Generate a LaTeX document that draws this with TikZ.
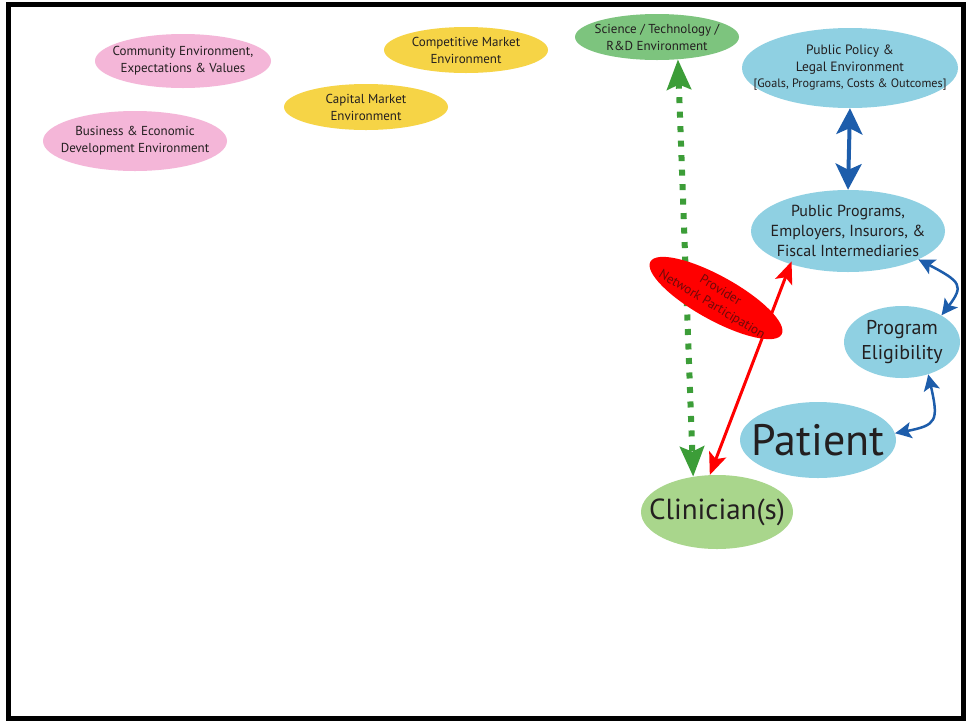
\documentclass[tikz,border=0pt]{standalone}
\usepackage{fontspec}
\setmainfont{PT Sans}
\usetikzlibrary{arrows.meta,shapes.geometric,bending}
\definecolor{pinkfill}{HTML}{F4B6D8}
\definecolor{yellowfill}{HTML}{F6D446}
\definecolor{scigreen}{HTML}{7DC47E}
\definecolor{bluefill}{HTML}{8FD0E2}
\definecolor{clingreen}{HTML}{A9D68C}
\definecolor{txt}{HTML}{231F20}
\definecolor{arrowblue}{HTML}{1D5DAB}
\definecolor{arrowgreen}{HTML}{3C9D38}
\definecolor{darkred}{HTML}{6E0A0A}
\tikzset{
  ell/.style={ellipse, inner sep=0pt},
  lbl/.style={inner sep=0pt, align=center, text=txt, font=\fontsize{13}{17}\selectfont},
  pinkell/.style={ell, fill=pinkfill},
  yellell/.style={ell, fill=yellowfill},
  blueell/.style={ell, fill=bluefill},
  greenarrow/.style={draw=arrowgreen, line width=6pt, dash pattern=on 6pt off 8.5pt,
     {Stealth[length=30pt,width=24pt,inset=5pt,fill=arrowgreen]}-{Stealth[length=30pt,width=24pt,inset=5pt,fill=arrowgreen]}},
  redarrow/.style={draw=red, line width=3pt,
     {Stealth[length=22pt,width=18pt,inset=5pt]}-{Stealth[length=22pt,width=18pt,inset=5pt]}},
  bluearrow/.style={draw=arrowblue, line width=4pt,
     {Stealth[length=26pt,width=26pt,inset=6pt]}-{Stealth[length=26pt,width=26pt,inset=6pt]}},
  bluecurve/.style={draw=arrowblue, line width=2.5pt,
     {Stealth[length=17pt,width=16pt,inset=4pt,bend]}-{Stealth[length=17pt,width=16pt,inset=4pt,bend]}}
}
\begin{document}
\begin{tikzpicture}[x=1pt,y=-1pt]
\useasboundingbox (0,0) rectangle (966,721);
\fill[white] (0,0) rectangle (966,721);
\draw[black, line width=5.5pt] (8.5,4.5) rectangle (963.5,718.5);

% environment ellipses
\node[pinkell, minimum width=176pt, minimum height=54pt,
  label={[lbl]center:Community Environment,\\Expectations \& Values}] (comm) at (183,61) {};
\node[pinkell, minimum width=184pt, minimum height=60pt,
  label={[lbl]center:Business \& Economic\\Development Environment}] (bus) at (135,141) {};
\node[yellell, minimum width=164pt, minimum height=46pt,
  label={[lbl]center:Competitive Market\\Environment}] (comp) at (466,50) {};
\node[yellell, minimum width=164pt, minimum height=46pt,
  label={[lbl]center:Capital Market\\Environment}] (cap) at (366,107) {};
\node[ell, fill=scigreen, minimum width=164pt, minimum height=46pt,
  label={[lbl]center:Science / Technology /\\R\&D Environment}] (sci) at (657,37) {};
\node[blueell, minimum width=216pt, minimum height=80pt,
  label={[lbl, font=\fontsize{13.5}{16.5}\selectfont]center:Public Policy \&\\Legal Environment\\{\fontsize{12.2}{14}\selectfont[Goals, Programs, Costs \& Outcomes]}}] (pol) at (850,68) {};
\node[blueell, minimum width=194pt, minimum height=82pt,
  label={[lbl, font=\fontsize{16}{20}\selectfont]center:Public Programs,\\Employers, Insurors, \&\\Fiscal Intermediaries}] (prog) at (848,231) {};
\node[blueell, minimum width=116pt, minimum height=72pt,
  label={[lbl, font=\fontsize{20}{25}\selectfont]center:Program\\Eligibility}] (elig) at (902,342) {};
\node[blueell, minimum width=156pt, minimum height=76pt,
  label={[lbl, font=\fontsize{44}{48}\selectfont]center:Patient}] (pat) at (818,440) {};
\node[ell, fill=clingreen, minimum width=152pt, minimum height=74pt,
  label={[lbl, font=\fontsize{29}{32}\selectfont]center:Clinician(s)}] (clin) at (717,512) {};

% connectors
\draw[greenarrow] (sci.-47) -- (clin.124);
\draw[redarrow, shorten >=-3pt] (clin.101) -- (prog.-150);
\draw[bluearrow] (pol.south) -- (prog.north);
\draw[bluecurve] (prog.-22) .. controls (966,284) .. (elig.34);
\draw[bluecurve] (elig.-51) .. controls (940,425) .. (pat.5);

% red ellipse on top
\node[ellipse, fill=red, inner sep=0pt, minimum width=150pt, minimum height=44pt, rotate=-29,
  label={[lbl, rotate=-31, text=darkred, font=\fontsize{13}{16.5}\selectfont]center:Provider\\Network Participation}] (prov) at (716,298) {};
\end{tikzpicture}
\end{document}
